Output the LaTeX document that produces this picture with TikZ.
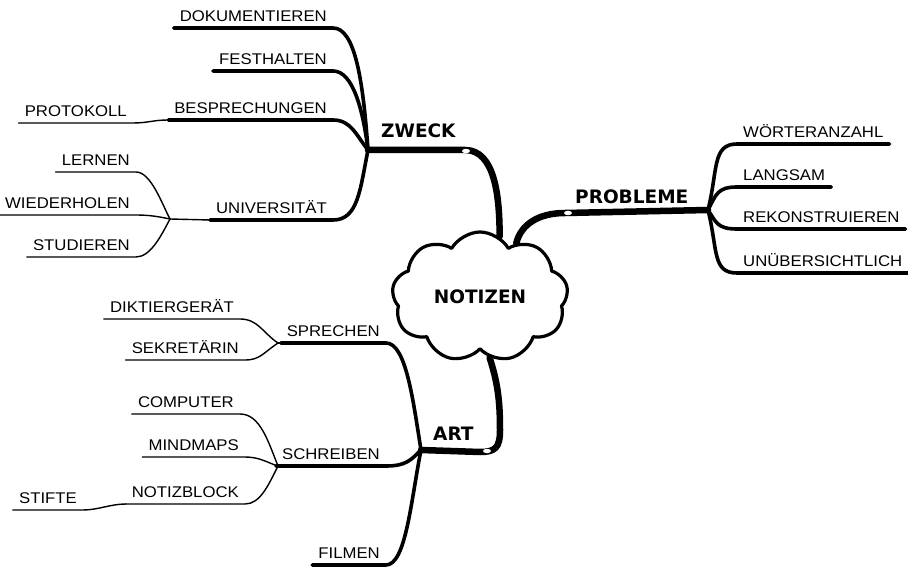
\documentclass[tikz,border=0pt]{standalone}
\usepackage{fontspec}
\setmainfont{Liberation Sans}[FakeStretch=1.08]
\newfontfamily\headfont{DejaVu Sans}
\usetikzlibrary{shapes.symbols}

\begin{document}
\begin{tikzpicture}[x=1pt,y=-1pt,line cap=round,line join=round,
    leaf/.style={font=\fontsize{15.5}{18}\selectfont,inner xsep=6pt,inner ysep=6.5pt,text depth=0pt},
    hub/.style={font=\headfont\bfseries\fontsize{18.5}{22}\selectfont,inner sep=0pt,anchor=base west},
    main/.style={line width=6.5pt},
    twig/.style={line width=3.6pt},
    thin/.style={line width=1.4pt}]
  \useasboundingbox (0,0) rectangle (908,569);

  % the cloud in the middle
  \node[cloud,draw,line width=3.2pt,fill=white,cloud puffs=9,cloud puff arc=120,aspect=1.3,
        minimum width=176pt,minimum height=130pt,inner sep=0pt,
        font=\headfont\bfseries\fontsize{18.5}{22}\selectfont] (notizen) at (480,297) {NOTIZEN};

  % junctions
  \coordinate (Z) at (368,150);
  \coordinate (U) at (170,219);
  \coordinate (P) at (708,210);
  \coordinate (A) at (421,450);
  \coordinate (S) at (278,343);
  \coordinate (W) at (278,466);

  % main labels
  \node[hub] (zweck)    at (381,138) {ZWECK};
  \node[hub] (probleme) at (575,204) {PROBLEME};
  \node[hub] (art)      at (433,440) {ART};

  % leaves left of ZWECK
  \begin{scope}[every node/.style={leaf,anchor=south east}]
    \node (dok)  at (333,28)  {DOKUMENTIEREN};
    \node (fes)  at (333,71)  {FESTHALTEN};
    \node (bes)  at (333,120) {BESPRECHUNGEN};
    \node (prot) at (133,123) {PROTOKOLL};
    \node (uni)  at (333,220) {UNIVERSITÄT};
    \node (lern) at (136,172) {LERNEN};
    \node (wied) at (136,215) {WIEDERHOLEN};
    \node (stud) at (136,257) {STUDIEREN};
  \end{scope}

  % leaves right of PROBLEME
  \begin{scope}[every node/.style={leaf,anchor=south west}]
    \node (wort) at (737,144) {WÖRTERANZAHL};
    \node (lang) at (737,187) {LANGSAM};
    \node (rek)  at (737,229) {REKONSTRUIEREN};
    \node (unu)  at (737,273) {UNÜBERSICHTLICH};
  \end{scope}

  % leaves left of ART
  \begin{scope}[every node/.style={leaf,anchor=south east}]
    \node (spr)   at (386,343) {SPRECHEN};
    \node (dik)   at (240,319) {DIKTIERGERÄT};
    \node (sek)   at (245,360) {SEKRETÄRIN};
    \node (schr)  at (386,466) {SCHREIBEN};
    \node (comp)  at (240,414) {COMPUTER};
    \node (mind)  at (245,457) {MINDMAPS};
    \node (notiz) at (245,504) {NOTIZBLOCK};
    \node (stift) at (83,510)  {STIFTE};
    \node (film)  at (386,565) {FILMEN};
  \end{scope}

  % main branches
  \draw[main] (Z) -- (465,150) .. controls +(30,0) and +(0,-40) .. (notizen.72);
  \draw[main] (notizen.56) .. controls +(5,-20) and +(-25,0) .. (565,213) -- (P);
  \draw[main] (notizen.-81) .. controls +(8,25) and +(0,-30) .. (500,430)
              .. controls +(0,18) and +(15,0) .. (480,452) -- (A);
  \fill[white] (466,151) ellipse (4 and 2.2);
  \fill[white] (568,213) ellipse (4 and 2.2);
  \fill[white] (487,451) ellipse (4 and 2.2);

  % ZWECK
  \draw[twig] (dok.south west) -- (dok.south east) .. controls +(22,0) and +(-5,-70) .. (Z);
  \draw[twig] (fes.south west) -- (fes.south east) .. controls +(20,0) and +(-5,-40) .. (Z);
  \draw[twig] (bes.south west) -- (bes.south east) .. controls +(18,0) and +(-12,-15) .. (Z);
  \draw[thin] (prot.south west) -- (prot.south east) .. controls +(15,0) and +(-15,0) .. (bes.south west);
  \draw[thin] (U) -- (uni.south west);
  \draw[twig] (uni.south west) -- (uni.south east) .. controls +(25,0) and +(-8,40) .. (Z);
  \draw[thin] (lern.south west) -- (lern.south east) .. controls +(15,0) and +(-8,-15) .. (U);
  \draw[thin] (wied.south west) -- (wied.south east) .. controls +(15,0) and +(-10,-2) .. (U);
  \draw[thin] (stud.south west) -- (stud.south east) .. controls +(15,0) and +(-8,15) .. (U);

  % PROBLEME
  \draw[twig] (P) .. controls +(10,-40) and +(-25,0) .. (wort.south west) -- (wort.south east);
  \draw[twig] (P) .. controls +(8,-15) and +(-20,0) .. (lang.south west) -- (lang.south east);
  \draw[twig] (P) .. controls +(8,12) and +(-20,0) .. (rek.south west) -- (rek.south east);
  \draw[twig] (P) .. controls +(10,40) and +(-25,0) .. (unu.south west) -- (unu.south east);

  % ART
  \draw[thin] (S) -- (spr.south west);
  \draw[twig] (spr.south west) -- (spr.south east) .. controls +(20,0) and +(-8,-50) .. (A);
  \draw[thin] (dik.south west) -- (dik.south east) .. controls +(18,0) and +(-15,-10) .. (S);
  \draw[thin] (sek.south west) -- (sek.south east) .. controls +(15,0) and +(-15,10) .. (S);
  \draw[thin] (W) -- (schr.south west);
  \draw[twig] (schr.south west) -- (schr.south east) .. controls +(20,0) and +(-10,10) .. (A);
  \draw[thin] (comp.south west) -- (comp.south east) .. controls +(20,0) and +(-10,-25) .. (W);
  \draw[thin] (mind.south west) -- (mind.south east) .. controls +(15,0) and +(-10,-3) .. (W);
  \draw[thin] (notiz.south west) -- (notiz.south east) .. controls +(15,0) and +(-10,20) .. (W);
  \draw[thin] (stift.south west) -- (stift.south east) .. controls +(15,0) and +(-15,0) .. (notiz.south west);
  \draw[twig] (film.south west) -- (film.south east) .. controls +(20,0) and +(-10,50) .. (A);
\end{tikzpicture}
\end{document}
